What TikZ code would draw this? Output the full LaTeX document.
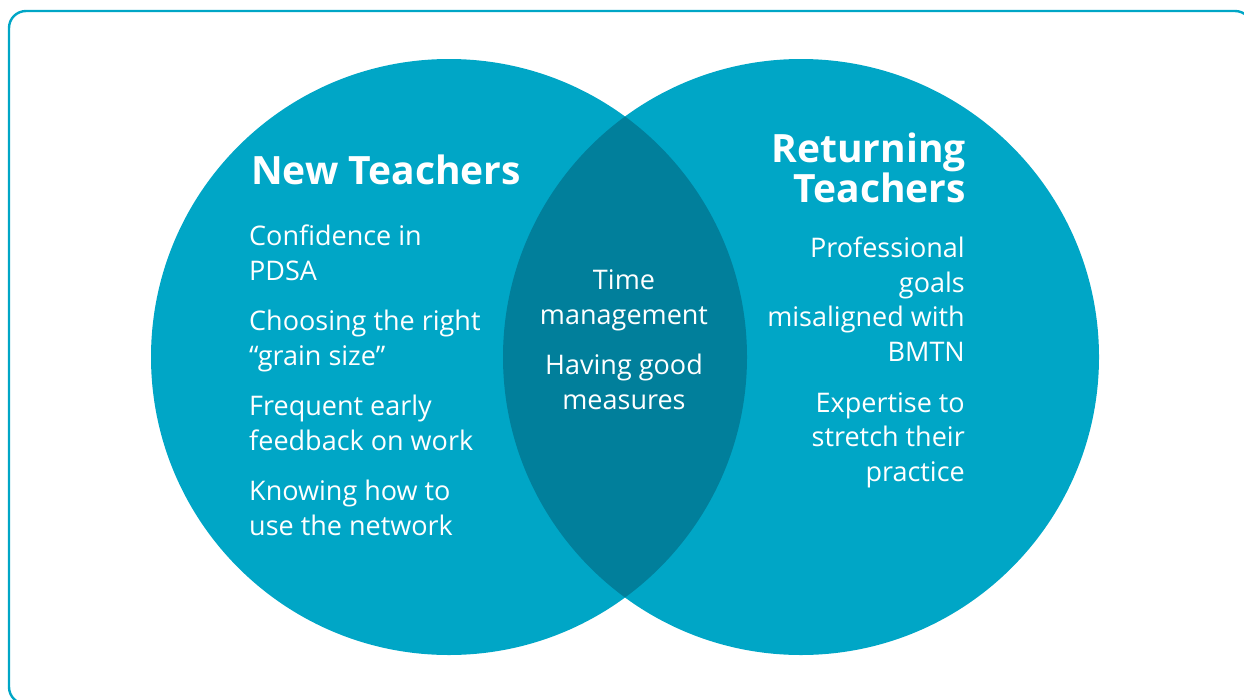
\documentclass[tikz,border=0pt]{standalone}
\usepackage{fontspec}
\setmainfont{Open Sans}
\newfontfamily\headfont{Open Sans}
\definecolor{vennteal}{HTML}{00A6C6}
\definecolor{venndark}{HTML}{017F9B}
\tikzset{
  venn/.style={fill=vennteal,draw=none},
  head/.style={text=white,inner sep=0pt,font=\headfont\bfseries\fontsize{39}{40}\selectfont},
  item/.style={text=white,inner sep=0pt,font=\fontsize{27}{34.5}\selectfont}
}
\begin{document}
\begin{tikzpicture}[x=1pt,y=-1pt]
\pgfmathsetmacro{\rad}{298}
\pgfmathsetmacro{\cy}{357}
\useasboundingbox(0,0)rectangle(1244,699);
\draw[vennteal,line width=2.4pt,rounded corners=17pt](9,11)rectangle(1252,704);
\coordinate(lc)at(449,\cy);
\coordinate(rc)at(801,\cy);
\fill[venn](lc)circle(\rad);
\fill[venn](rc)circle(\rad);
\begin{scope}
\clip(lc)circle(\rad);
\fill[venndark](rc)circle(\rad);
\end{scope}
% left circle (base = last line)
\node[head,anchor=base west](newhead)at(251,184){New Teachers};
\node[item,anchor=base west,align=left](conf)at(249,280){Confidence in\\PDSA};
\node[item,anchor=base west,align=left](grain)at(249,365){Choosing the right\\“grain size”};
\node[item,anchor=base west,align=left](early)at(249,450){Frequent early\\feedback on work};
\node[item,anchor=base west,align=left](netw)at(249,535){Knowing how to\\use the network};
% overlap
\node[item,anchor=base,align=center](time)at(624,324){Time\\management};
\node[item,anchor=base,align=center](meas)at(624,409){Having good\\measures};
% right circle
\node[head,anchor=base east,align=right](rethead)at(966,202){Returning\\Teachers};
\node[item,anchor=base east,align=right](goals)at(965,361){Professional\\goals\\misaligned with\\BMTN};
\node[item,anchor=base east,align=right](exp)at(965,481){Expertise to\\stretch their\\practice};
\end{tikzpicture}
\end{document}
